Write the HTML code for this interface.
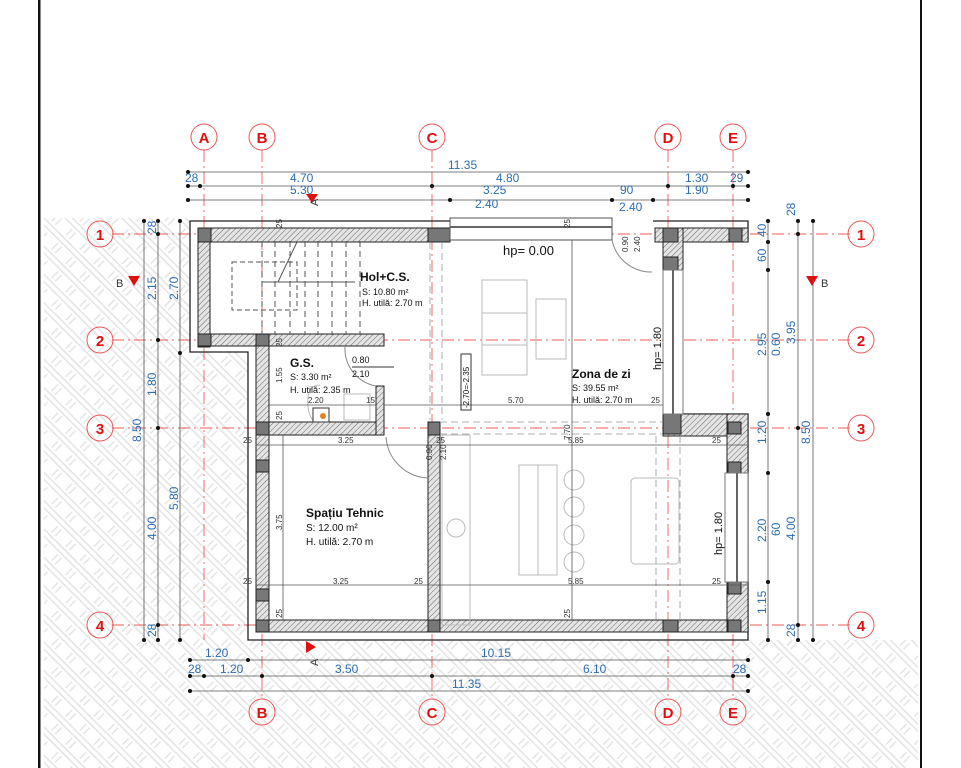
<!DOCTYPE html>
<html><head><meta charset="utf-8"><style>
html,body{margin:0;padding:0;background:#fff;}
svg{display:block;font-family:"Liberation Sans",sans-serif;}
.d{fill:#2e6db0;font-size:12px;}
.s{fill:#333;font-size:8px;}
.ax{fill:none;stroke:#e55;stroke-width:1;}
.axt{fill:#e01010;font-size:15px;font-weight:bold;text-anchor:middle;}
.gl{stroke:#e33;stroke-width:0.9;stroke-dasharray:12 4 2 4;opacity:.8}
.dl{stroke:#555;stroke-width:0.8;}
.w{fill:url(#wh);stroke:#222;stroke-width:1;}
.c{fill:#777;stroke:#222;stroke-width:1;}
.f{fill:none;stroke:#bbb;stroke-width:1;}
</style></head><body>
<svg width="961" height="768" viewBox="0 0 961 768">
<defs>
<pattern id="gh" width="20" height="20" patternUnits="userSpaceOnUse" patternTransform="rotate(45)">
<rect width="20" height="20" fill="#fff"/>
<line x1="0" y1="3" x2="20" y2="3" stroke="#e3e3e3" stroke-width="1.4"/>
<line x1="0" y1="8" x2="20" y2="8" stroke="#e3e3e3" stroke-width="1.4"/>
<line x1="13" y1="11" x2="13" y2="20" stroke="#e3e3e3" stroke-width="1.4"/>
<line x1="18" y1="11" x2="18" y2="20" stroke="#e3e3e3" stroke-width="1.4"/>
</pattern>
<pattern id="wh" width="4" height="4" patternUnits="userSpaceOnUse" patternTransform="rotate(45)">
<rect width="4" height="4" fill="#e4e4e4"/><line x1="0" y1="0" x2="0" y2="4" stroke="#666" stroke-width="1"/>
</pattern>
</defs>
<rect x="38" y="0" width="2.5" height="768" fill="#111"/>
<rect x="920" y="0" width="2" height="768" fill="#111"/>
<path d="M44 218 H190 V352 H248 V640 H748 V640 H918 V768 H44 Z" fill="url(#gh)"/>
<path d="M190 221 H450 V218 H612 V221 H748 V242 H683 V414 H748 V640 H248 V352 H190 Z" fill="#fff"/>
<g class="gl">
<line x1="204" y1="150" x2="204" y2="640"/>
<line x1="262" y1="150" x2="262" y2="700"/>
<line x1="432" y1="150" x2="432" y2="700"/>
<line x1="668" y1="150" x2="668" y2="700"/>
<line x1="733" y1="150" x2="733" y2="700"/>
<line x1="112" y1="234" x2="850" y2="234"/>
<line x1="112" y1="340" x2="850" y2="340"/>
<line x1="112" y1="428" x2="850" y2="428"/>
<line x1="112" y1="625" x2="850" y2="625"/>
</g>
<g>
<circle class="ax" cx="204" cy="137" r="13"/><text class="axt" x="204" y="143">A</text>
<circle class="ax" cx="262" cy="137" r="13"/><text class="axt" x="262" y="143">B</text>
<circle class="ax" cx="432" cy="137" r="13"/><text class="axt" x="432" y="143">C</text>
<circle class="ax" cx="668" cy="137" r="13"/><text class="axt" x="668" y="143">D</text>
<circle class="ax" cx="733" cy="137" r="13"/><text class="axt" x="733" y="143">E</text>
<circle class="ax" cx="262" cy="712" r="13"/><text class="axt" x="262" y="718">B</text>
<circle class="ax" cx="432" cy="712" r="13"/><text class="axt" x="432" y="718">C</text>
<circle class="ax" cx="668" cy="712" r="13"/><text class="axt" x="668" y="718">D</text>
<circle class="ax" cx="733" cy="712" r="13"/><text class="axt" x="733" y="718">E</text>
<circle class="ax" cx="100" cy="234" r="13"/><text class="axt" x="100" y="240">1</text>
<circle class="ax" cx="100" cy="340" r="13"/><text class="axt" x="100" y="346">2</text>
<circle class="ax" cx="100" cy="428" r="13"/><text class="axt" x="100" y="434">3</text>
<circle class="ax" cx="100" cy="625" r="13"/><text class="axt" x="100" y="631">4</text>
<circle class="ax" cx="861" cy="234" r="13"/><text class="axt" x="861" y="240">1</text>
<circle class="ax" cx="861" cy="340" r="13"/><text class="axt" x="861" y="346">2</text>
<circle class="ax" cx="861" cy="428" r="13"/><text class="axt" x="861" y="434">3</text>
<circle class="ax" cx="861" cy="625" r="13"/><text class="axt" x="861" y="631">4</text>
</g>
<path d="M450 221 H190 V352 H248 V640 H748 V414 H683" fill="none" stroke="#222" stroke-width="1.3"/>
<path d="M653 221 H748 V242" fill="none" stroke="#222" stroke-width="1.3"/>
<rect class="w" x="198" y="228" width="252" height="14"/>
<rect class="w" x="198" y="228" width="12" height="119"/>
<rect class="w" x="198" y="334" width="186" height="12"/>
<rect class="w" x="256" y="334" width="13" height="298"/>
<rect class="w" x="256" y="422" width="128" height="13"/>
<rect class="w" x="376" y="386" width="8" height="49"/>
<rect class="w" x="428" y="422" width="12" height="210"/>
<rect class="w" x="256" y="620" width="492" height="12"/>
<rect class="w" x="655" y="228" width="93" height="14"/>
<rect class="w" x="663" y="228" width="20" height="42"/>
<rect class="w" x="663" y="414" width="85" height="22"/>
<rect class="w" x="727" y="414" width="21" height="59"/>
<rect class="w" x="727" y="582" width="21" height="50"/>
<rect class="c" x="198" y="228" width="13" height="14"/>
<rect class="c" x="428" y="228" width="22" height="14"/>
<rect class="c" x="663" y="228" width="15" height="14"/>
<rect class="c" x="729" y="228" width="13" height="14"/>
<rect class="c" x="663" y="257" width="15" height="13"/>
<rect class="c" x="198" y="334" width="13" height="12"/>
<rect class="c" x="256" y="334" width="13" height="12"/>
<rect class="c" x="256" y="422" width="13" height="13"/>
<rect class="c" x="428" y="422" width="12" height="13"/>
<rect class="c" x="663" y="414" width="18" height="20"/>
<rect class="c" x="728" y="422" width="13" height="12"/>
<rect class="c" x="728" y="462" width="13" height="11"/>
<rect class="c" x="728" y="582" width="13" height="12"/>
<rect class="c" x="256" y="460" width="13" height="12"/>
<rect class="c" x="256" y="589" width="13" height="12"/>
<rect class="c" x="256" y="620" width="13" height="12"/>
<rect class="c" x="428" y="620" width="12" height="12"/>
<rect class="c" x="663" y="620" width="15" height="12"/>
<rect class="c" x="728" y="620" width="13" height="12"/>
<rect x="450" y="218" width="162" height="22" fill="#fff" stroke="#555" stroke-width="1"/>
<line x1="450" y1="227" x2="612" y2="227" stroke="#666" stroke-width="2"/>
<rect x="663" y="270" width="20" height="144" fill="#fff" stroke="#777"/>
<line x1="673" y1="270" x2="673" y2="414" stroke="#666" stroke-width="2"/>
<rect x="725" y="473" width="23" height="109" fill="#fff" stroke="#777"/>
<line x1="737" y1="473" x2="737" y2="582" stroke="#666" stroke-width="2"/>
<path d="M612 240 A40 40 0 0 0 652 272" fill="none" stroke="#888"/>
<path d="M345 347 A38 38 0 0 0 376 386" fill="none" stroke="#888"/>
<path d="M386 437 A44 44 0 0 0 428 478" fill="none" stroke="#888"/>
<g stroke="#555" stroke-width="1" fill="none">
<rect x="232" y="262" width="65" height="48" stroke-dasharray="5 3"/>
<path d="M262 241 V335 M275 241 V335 M290 241 V335 M305 241 V335 M318 241 V335 M332 241 V335 M346 241 V335 M360 241 V335" stroke-dasharray="6 4"/>
<line x1="262" y1="282" x2="355" y2="282"/>
<line x1="278" y1="282" x2="297" y2="242"/>
</g>
<g class="f">
<rect x="482" y="280" width="45" height="95"/><line x1="482" y1="313" x2="527" y2="313"/><line x1="482" y1="345" x2="527" y2="345"/>
<rect x="536" y="299" width="30" height="60"/>
<rect x="519" y="465" width="38" height="110"/><line x1="538" y1="465" x2="538" y2="575"/>
<circle cx="574" cy="480" r="10"/><circle cx="574" cy="507" r="10"/><circle cx="574" cy="535" r="10"/><circle cx="574" cy="562" r="10"/>
<rect x="631" y="478" width="48" height="86" rx="4"/>
<rect x="442" y="435" width="28" height="190"/>
<circle cx="456" cy="528" r="9"/>
<path d="M320 385 q-14 0 -12 22 q2 15 10 15"/>
<rect x="344" y="394" width="26" height="26"/>
</g>
<rect x="313" y="408" width="16" height="14" fill="#fff" stroke="#333"/>
<circle cx="323" cy="416" r="3" fill="#e67e22"/>
<g stroke="#999" stroke-width="0.8" stroke-dasharray="7 4" fill="none">
<line x1="430" y1="242" x2="430" y2="420"/><line x1="442" y1="242" x2="442" y2="420"/>
<line x1="656" y1="436" x2="656" y2="620"/><line x1="680" y1="436" x2="680" y2="620"/>
<line x1="440" y1="422" x2="663" y2="422"/><line x1="440" y1="434" x2="663" y2="434"/>
</g>
<g class="dl">
<line x1="269" y1="405" x2="376" y2="405"/>
<line x1="384" y1="405" x2="663" y2="405"/>
<line x1="256" y1="445" x2="748" y2="445"/>
<line x1="256" y1="585" x2="748" y2="585"/>
<line x1="572" y1="240" x2="572" y2="620"/>
<line x1="283" y1="435" x2="283" y2="620"/>
</g>
<g class="dl">
<line x1="188" y1="172" x2="748" y2="172"/>
<line x1="188" y1="186" x2="748" y2="186"/>
<line x1="188" y1="200" x2="748" y2="200"/>
<line x1="144" y1="221" x2="144" y2="640"/>
<line x1="158" y1="221" x2="158" y2="640"/>
<line x1="180" y1="221" x2="180" y2="640"/>
<line x1="768" y1="221" x2="768" y2="640"/>
<line x1="798" y1="221" x2="798" y2="640"/>
<line x1="813" y1="221" x2="813" y2="640"/>
<line x1="190" y1="660" x2="748" y2="660"/>
<line x1="190" y1="676" x2="748" y2="676"/>
<line x1="190" y1="691" x2="748" y2="691"/>
</g>
<g fill="#111">
<circle cx="188" cy="172" r="2"/><circle cx="748" cy="172" r="2"/>
<circle cx="188" cy="186" r="2"/><circle cx="200" cy="186" r="2"/><circle cx="432" cy="186" r="2"/><circle cx="668" cy="186" r="2"/><circle cx="733" cy="186" r="2"/><circle cx="748" cy="186" r="2"/>
<circle cx="188" cy="200" r="2"/><circle cx="450" cy="200" r="2"/><circle cx="612" cy="200" r="2"/><circle cx="653" cy="200" r="2"/><circle cx="748" cy="200" r="2"/>
<circle cx="144" cy="221" r="2"/><circle cx="158" cy="221" r="2"/><circle cx="180" cy="221" r="2"/>
<circle cx="158" cy="234" r="2"/><circle cx="158" cy="340" r="2"/><circle cx="158" cy="428" r="2"/><circle cx="158" cy="625" r="2"/><circle cx="180" cy="353" r="2"/>
<circle cx="144" cy="640" r="2"/><circle cx="158" cy="640" r="2"/><circle cx="180" cy="640" r="2"/>
<circle cx="768" cy="221" r="2"/><circle cx="768" cy="242" r="2"/><circle cx="768" cy="270" r="2"/><circle cx="768" cy="414" r="2"/><circle cx="768" cy="473" r="2"/><circle cx="768" cy="582" r="2"/><circle cx="768" cy="640" r="2"/>
<circle cx="798" cy="221" r="2"/><circle cx="798" cy="234" r="2"/><circle cx="798" cy="428" r="2"/><circle cx="798" cy="625" r="2"/><circle cx="798" cy="640" r="2"/>
<circle cx="813" cy="221" r="2"/><circle cx="813" cy="640" r="2"/>
<circle cx="190" cy="660" r="2"/><circle cx="248" cy="660" r="2"/><circle cx="748" cy="660" r="2"/>
<circle cx="190" cy="676" r="2"/><circle cx="204" cy="676" r="2"/><circle cx="262" cy="676" r="2"/><circle cx="432" cy="676" r="2"/><circle cx="733" cy="676" r="2"/><circle cx="748" cy="676" r="2"/>
<circle cx="190" cy="691" r="2"/><circle cx="748" cy="691" r="2"/>
</g>
<g class="d">
<text x="448" y="169">11.35</text>
<text x="185" y="182">28</text><text x="290" y="182">4.70</text><text x="496" y="182">4.80</text><text x="685" y="182">1.30</text><text x="730" y="182">29</text>
<text x="290" y="194">5.30</text><text x="483" y="194">3.25</text><text x="620" y="194">90</text><text x="685" y="194">1.90</text>
<text x="475" y="208">2.40</text><text x="619" y="211">2.40</text>
<text x="205" y="657">1.20</text><text x="481" y="657">10.15</text>
<text x="188" y="673">28</text><text x="220" y="673">1.20</text><text x="335" y="673">3.50</text><text x="583" y="673">6.10</text><text x="733" y="673">28</text>
<text x="452" y="688">11.35</text>
<text transform="translate(156,234) rotate(-90)">28</text>
<text transform="translate(156,300) rotate(-90)">2.15</text>
<text transform="translate(156,396) rotate(-90)">1.80</text>
<text transform="translate(156,540) rotate(-90)">4.00</text>
<text transform="translate(156,637) rotate(-90)">28</text>
<text transform="translate(141,442) rotate(-90)">8.50</text>
<text transform="translate(178,300) rotate(-90)">2.70</text>
<text transform="translate(178,510) rotate(-90)">5.80</text>
<text transform="translate(766,237) rotate(-90)">40</text>
<text transform="translate(766,262) rotate(-90)">60</text>
<text transform="translate(766,356) rotate(-90)">2.95</text>
<text transform="translate(766,444) rotate(-90)">1.20</text>
<text transform="translate(766,542) rotate(-90)">2.20</text>
<text transform="translate(766,614) rotate(-90)">1.15</text>
<text transform="translate(780,356) rotate(-90)">0.60</text>
<text transform="translate(780,536) rotate(-90)">60</text>
<text transform="translate(795,216) rotate(-90)">28</text>
<text transform="translate(795,344) rotate(-90)">3.95</text>
<text transform="translate(810,444) rotate(-90)">8.50</text>
<text transform="translate(795,540) rotate(-90)">4.00</text>
<text transform="translate(795,637) rotate(-90)">28</text>
</g>
<polygon points="306,194 318,194 312,203" fill="#e01010"/>
<text transform="translate(318,206) rotate(-90)" font-size="11" fill="#333">A</text>
<polygon points="306,641 316,647 306,653" fill="#e01010"/>
<text transform="translate(318,666) rotate(-90)" font-size="11" fill="#333">A</text>
<polygon points="128,276 140,276 134,286" fill="#e01010"/><text x="116" y="287" font-size="11" fill="#333">B</text>
<polygon points="806,276 818,276 812,286" fill="#e01010"/><text x="821" y="287" font-size="11" fill="#333">B</text>
<g fill="#111">
<text x="360" y="281" font-size="12" font-weight="bold">Hol+C.S.</text>
<text x="362" y="295" font-size="9">S: 10.80 m²</text>
<text x="362" y="306" font-size="9">H. utilă: 2.70 m</text>
<text x="290" y="367" font-size="12" font-weight="bold">G.S.</text>
<text x="290" y="380" font-size="9">S: 3.30 m²</text>
<text x="290" y="393" font-size="9">H. utilă: 2.35 m</text>
<text x="352" y="363" font-size="9">0.80</text>
<line x1="352" y1="367" x2="394" y2="367" stroke="#333"/>
<text x="352" y="377" font-size="9">2.10</text>
<text x="572" y="378" font-size="12" font-weight="bold">Zona de zi</text>
<text x="572" y="391" font-size="9">S: 39.55 m²</text>
<text x="572" y="403" font-size="9">H. utilă: 2.70 m</text>
<text x="306" y="517" font-size="12" font-weight="bold">Spațiu Tehnic</text>
<text x="306" y="531" font-size="10">S: 12.00 m²</text>
<text x="306" y="545" font-size="10">H. utilă: 2.70 m</text>
<text x="503" y="255" font-size="13">hp= 0.00</text>
<text transform="translate(661,370) rotate(-90)" font-size="11">hp= 1.80</text>
<text transform="translate(722,555) rotate(-90)" font-size="11">hp= 1.80</text>
<rect x="461" y="354" width="10" height="56" fill="none" stroke="#333"/>
<text transform="translate(469,408) rotate(-90)" font-size="8">-2.70=-2.35</text>
</g>
<g class="s">
<text x="308" y="403">2.20</text><text x="366" y="403">15</text><text x="508" y="403">5.70</text><text x="651" y="403">25</text>
<text x="338" y="443">3.25</text><text x="568" y="443">5.85</text><text x="243" y="443">25</text><text x="436" y="443">25</text><text x="712" y="443">25</text>
<text x="333" y="584">3.25</text><text x="568" y="584">5.85</text><text x="243" y="584">25</text><text x="414" y="584">25</text><text x="712" y="584">25</text>
<text transform="translate(282,530) rotate(-90)">3.75</text>
<text transform="translate(282,383) rotate(-90)">1.55</text>
<text transform="translate(282,420) rotate(-90)">25</text>
<text transform="translate(282,347) rotate(-90)">25</text>
<text transform="translate(282,618) rotate(-90)">25</text>
<text transform="translate(570,618) rotate(-90)">25</text>
<text transform="translate(570,228) rotate(-90)">25</text>
<text transform="translate(282,228) rotate(-90)">25</text>
<text transform="translate(570,440) rotate(-90)">7.70</text>
<text transform="translate(432,460) rotate(-90)">0.90</text>
<text transform="translate(446,460) rotate(-90)">2.10</text>
<text transform="translate(628,252) rotate(-90)">0.90</text>
<text transform="translate(640,252) rotate(-90)">2.40</text>
</g>
</svg>
</body></html>
